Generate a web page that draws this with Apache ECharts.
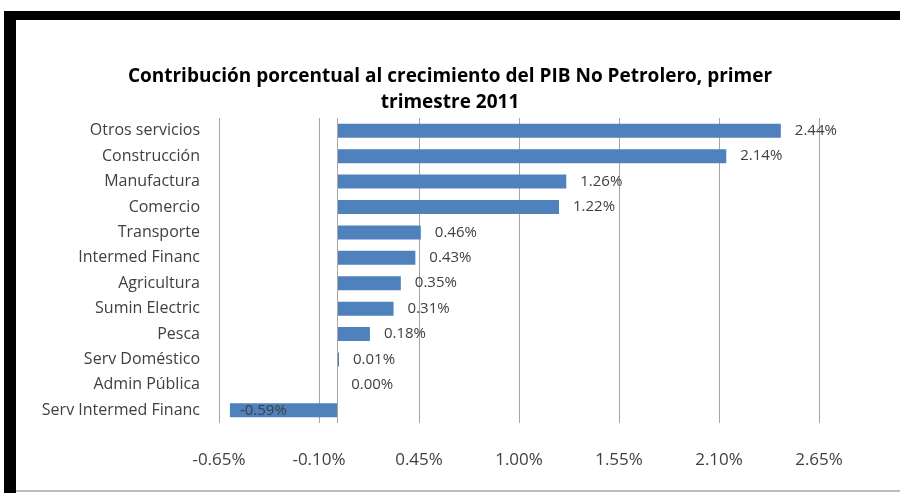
<!DOCTYPE html>
<html><head><meta charset="utf-8">
<script src="https://cdn.jsdelivr.net/npm/echarts@6/dist/echarts.min.js"></script>
<style>html,body{margin:0;padding:0;background:#fff}#c{width:900px;height:493px}</style>
</head><body><div id="c"></div>
<script>
const categories = ["Otros servicios","Construcción","Manufactura","Comercio","Transporte","Intermed Financ","Agricultura","Sumin Electric","Pesca","Serv Doméstico","Admin Pública","Serv Intermed Financ"];
const values = [2.44, 2.14, 1.26, 1.22, 0.46, 0.43, 0.35, 0.31, 0.18, 0.01, 0.00, -0.59];
const titleText = "Contribución porcentual al crecimiento del PIB No Petrolero, primer\ntrimestre 2011";

const chart = echarts.init(document.getElementById('c'));
const font = '"Open Sans", "Noto Sans", sans-serif';
chart.setOption({
  animation: false,
  backgroundColor: '#fff',
  title: {
    text: titleText, left: 'center', top: 59,
    textStyle: {fontFamily: font, fontSize: 19, fontWeight: 'bold', color: '#000', lineHeight: 26}
  },
  grid: {left: 219, right: 81, top: 118, height: 305, containLabel: false},
  xAxis: {
    type: 'value', min: -0.65, max: 2.65, interval: 0.55,
    axisLine: {show: false}, axisTick: {show: false},
    splitLine: {show: true, lineStyle: {color: '#a6a6a6', width: 1}},
    axisLabel: {margin: 29, fontFamily: font, fontSize: 17, color: '#404040',
      formatter: v => v.toFixed(2) + '%'}
  },
  yAxis: {
    type: 'category', data: categories, inverse: true,
    axisLine: {show: false}, axisTick: {show: false},
    axisLabel: {margin: 19, fontFamily: font, fontSize: 16, color: '#404040'}
  },
  series: [{
    type: 'bar', barWidth: 14,
    itemStyle: {color: '#4f81bd'},
    data: values.map(v => v < 0 ? {value: v, label: {position: 'insideLeft', distance: 10}} : v),
    label: {show: true, position: 'right', distance: 14, fontFamily: font, fontSize: 15, color: '#404040',
      formatter: p => p.value.toFixed(2) + '%'},
    markLine: {silent: true, symbol: 'none', label: {show: false},
      lineStyle: {color: '#a6a6a6', type: 'solid', width: 1},
      data: [{xAxis: 0}]}
  }],
  graphic: [
    {type: 'rect', shape: {x: 4, y: 11, width: 896, height: 9}, style: {fill: '#000'}, z: 100},
    {type: 'rect', shape: {x: 4, y: 11, width: 12, height: 482}, style: {fill: '#000'}, z: 100},
    {type: 'rect', shape: {x: 16, y: 490, width: 884, height: 2}, style: {fill: '#bdbdbd'}, z: 100}
  ]
});
</script></body></html>
